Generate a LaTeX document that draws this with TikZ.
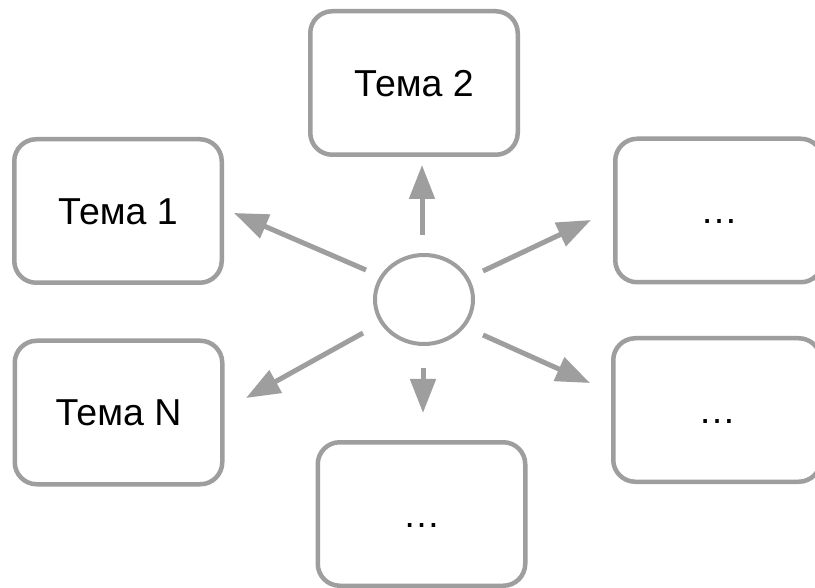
\documentclass[tikz,border=0pt]{standalone}
\usepackage{fontspec}
\setmainfont{Liberation Sans}
\usetikzlibrary{arrows.meta,shapes.geometric}
\definecolor{linegray}{HTML}{9E9E9E}
\tikzset{
  topic/.style={draw=linegray, line width=4.5pt, rounded corners=22pt,
    minimum width=207.5pt, minimum height=143.5pt, inner sep=0pt,
    font=\fontsize{37.5}{44}\selectfont, text height=26.8pt, text depth=0pt, fill=white},
  hub/.style={draw=linegray, line width=4pt, ellipse, inner sep=0pt,
    minimum width=98pt, minimum height=89pt},
  arr/.style={draw=linegray, line width=5pt, -{Triangle[length=34pt, width=25pt]}}
}
\begin{document}
\begin{tikzpicture}[x=1pt,y=-1pt]
\useasboundingbox (0,0) rectangle (815,588);
\fill[white] (0,0) rectangle (815,588);
\node[topic] (b2) at (414,83) {Тема 2};
\node[topic] (b1) at (118,211) {Тема 1};
\node[topic] (rt) at (719,210.5) {…};
\node[topic] (bn) at (118.5,412.5) {Тема N};
\node[topic] (rb) at (717,410) {…};
\node[topic] (bb) at (421.5,514) {…};
\node[hub] (c) at (424,299.5) {};
\coordinate (tu) at (422,235); \coordinate (hu) at (422,165);
\coordinate (td) at (423,368); \coordinate (hd) at (423,413);
\coordinate (tul) at (366,270); \coordinate (hul) at (234,213);
\coordinate (tur) at (483,271); \coordinate (hur) at (591,220);
\coordinate (tll) at (363,333); \coordinate (hll) at (246,398);
\coordinate (tlr) at (483,335); \coordinate (hlr) at (590,383);
\draw[arr] (tu) -- (hu);
\draw[arr] (td) -- (hd);
\draw[arr] (tul) -- (hul);
\draw[arr] (tur) -- (hur);
\draw[arr] (tll) -- (hll);
\draw[arr] (tlr) -- (hlr);
\end{tikzpicture}
\end{document}
